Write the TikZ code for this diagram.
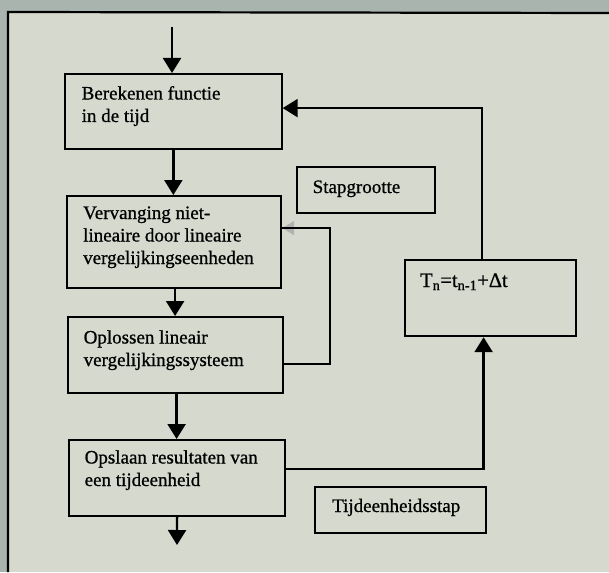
\documentclass[tikz,border=0pt]{standalone}
\usepackage{fontspec}
\setmainfont[FakeBold=0.8]{Liberation Serif}
\usetikzlibrary{arrows.meta}
\definecolor{paper}{HTML}{D5D9CE}
\definecolor{outer}{HTML}{AAB4AE}
\tikzset{
  box/.style={draw=black, line width=2.2pt, inner sep=0pt, anchor=north west},
  txt/.style={inner sep=0pt, anchor=base west, align=left, font=\fontsize{19}{22.5}\selectfont},
  conn/.style={line width=2.3pt, -{Triangle[length=15pt,width=18pt]}},
  plain/.style={line width=2.3pt},
}
\begin{document}
\begin{tikzpicture}[x=1pt,y=-1pt]
\fill[outer] (0,0) rectangle (609,572);
\fill[paper] (8,12) rectangle (609,572);
\useasboundingbox (0,0) rectangle (609,572);
\draw[line width=2.2pt] (8,572) -- (8,12) -- (609,13);
% boxes
\node[box, minimum width=216.5pt, minimum height=75pt] (b1) at (64,73) {};
\node[box, minimum width=214pt, minimum height=92pt] (b2) at (66,195) {};
\node[box, minimum width=215pt, minimum height=76pt] (b3) at (67,316) {};
\node[box, minimum width=216pt, minimum height=76pt] (b4) at (68,439) {};
\node[box, minimum width=138pt, minimum height=46pt] (stap) at (296,166) {};
\node[box, minimum width=171pt, minimum height=76pt] (tn) at (404,259) {};
\node[box, minimum width=171pt, minimum height=46pt] (tijd) at (314,486) {};
% texts (anchor is the baseline of the last line)
\node[txt] (t1) at (81.5,122) {Berekenen functie\\in de tijd};
\node[txt] (t2) at (83,264) {Vervanging niet-\\lineaire door lineaire\\vergelijkingseenheden};
\node[txt] (t3) at (83.5,366) {Oplossen lineair\\vergelijkingssysteem};
\node[txt] (t4) at (84.5,486) {Opslaan resultaten van\\een tijdeenheid};
\node[txt] (t5) at (312.5,193) {Stapgrootte};
\node[txt, font=\fontsize{20.5}{24}\selectfont] (t6) at (420,287) {T\textsubscript{n}=t\textsubscript{n-1}+Δt};
\node[txt] (t7) at (332,512) {Tijdeenheidsstap};
% connectors
\coordinate (in) at (172,27);
\coordinate (out) at (177,545);
\draw[conn] (in) -- (in |- b1.north);
\draw[conn] (b1.south) -- (b1.south |- b2.north);
\draw[conn] ([xshift=1pt]b2.south) -- ([xshift=1pt]b2.south |- b3.north);
\draw[conn] ([xshift=1pt]b3.south) -- ([xshift=1pt]b3.south |- b4.north);
\draw[conn] (b4.south) -- (out);
% feedback loop
\draw[line width=2.3pt, -{Triangle[length=12pt,width=14pt,fill=black!30,color=black!30]}] ([yshift=-9pt]b3.east) -- ++(46,0) |- ([yshift=14pt]b2.east);
\draw[plain] ([yshift=-9pt]b3.east) -- ++(46,0) |- ([yshift=14pt]b2.east);
% time step loop
\draw[conn] ([yshift=9pt]b4.east) -| ([xshift=-7pt]tn.south);
\draw[conn] ([xshift=-8.5pt]tn.north) |- ([yshift=3.5pt]b1.east);
\end{tikzpicture}
\end{document}
